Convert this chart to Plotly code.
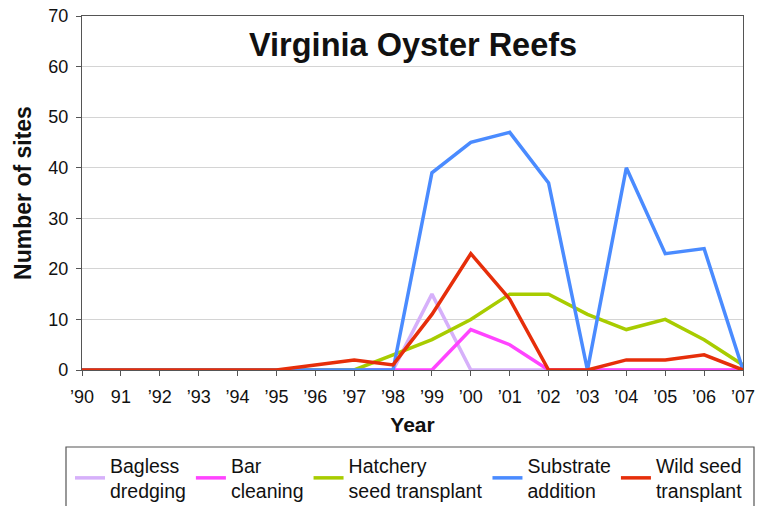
import plotly.graph_objects as go

years = ["’90", "91", "’92", "’93", "’94", "’95", "’96", "’97", "’98",
         "’99", "’00", "’01", "’02", "’03", "’04", "’05", "’06", "’07"]

bagless_dredging = [0, 0, 0, 0, 0, 0, 0, 0, 0, 15, 0, 0, 0, 0, 0, 0, 0, 0]
bar_cleaning = [0, 0, 0, 0, 0, 0, 0, 0, 0, 0, 8, 5, 0, 0, 0, 0, 0, 0]
hatchery_seed = [0, 0, 0, 0, 0, 0, 0, 0, 3, 6, 10, 15, 15, 11, 8, 10, 6, 1]
substrate_addition = [0, 0, 0, 0, 0, 0, 0, 0, 0, 39, 45, 47, 37, 0, 40, 23, 24, 0]
wild_seed = [0, 0, 0, 0, 0, 0, 1, 2, 1, 11, 23, 14, 0, 0, 2, 2, 3, 0]

series_names = ["Bagless<br>dredging", "Bar<br>cleaning", "Hatchery<br>seed transplant",
                "Substrate<br>addition", "Wild seed<br>transplant"]
series_values = [bagless_dredging, bar_cleaning, hatchery_seed, substrate_addition, wild_seed]
series_colors = ["#D6B0FA", "#FF44FF", "#A8CC00", "#4A8BFF", "#E62E0A"]

x_idx = list(range(len(years)))

fig = go.Figure()
for name, vals, col in zip(series_names, series_values, series_colors):
    fig.add_trace(go.Scatter(x=x_idx, y=vals, mode="lines", name=name,
                             line=dict(color=col, width=3.5)))

FONT = "Liberation Sans, Arial, Helvetica, sans-serif"

# the page's body margin is removed by the post script below
W, H = 762, 506
# plot area in page pixels: x 82..743, y 16..370
L, R, T, B = 82, 762 - 743, 16, 506 - 370
pw, ph = W - L - R, H - T - B

def px_x(x):  # page px -> paper
    return (x - L) / pw

def px_y(y):  # page px -> paper
    return (H - B - y) / ph

fig.update_layout(
    width=W, height=H,
    margin=dict(l=L, r=R, t=T, b=B, pad=0, autoexpand=False),
    paper_bgcolor="white", plot_bgcolor="white",
    font=dict(family=FONT, color="#111111"),
    showlegend=True,
    legend=dict(orientation="h", x=px_x(70), y=px_y(446), xanchor="left", yanchor="top",
                font=dict(size=19.5, family=FONT, color="#111111"),
                bgcolor="rgba(0,0,0,0)", borderwidth=0, traceorder="normal"),
    xaxis=dict(range=[0, len(years) - 1], tickmode="array", tickvals=x_idx, ticktext=years,
               automargin=False, ticklabeloverflow="allow",
               showgrid=False, zeroline=False, showline=True, mirror=True,
               linecolor="#555555", linewidth=1.2, ticks="outside", ticklen=5,
               tickcolor="#555555", ticklabelstandoff=5,
               tickfont=dict(size=18, family=FONT, color="#111111"),
               title=dict(text="<b>Year</b>", font=dict(size=21, family=FONT, color="#111111"),
                          standoff=11)),
    yaxis=dict(range=[0, 70], dtick=10, showgrid=True, gridcolor="#D4D4D4", gridwidth=1,
               automargin=False, ticklabeloverflow="allow",
               zeroline=False, showline=True, mirror=True, linecolor="#555555", linewidth=1.2,
               ticks="outside", ticklen=5, tickcolor="#555555", ticklabelstandoff=4,
               tickfont=dict(size=18, family=FONT, color="#111111"),
               title=dict(text="<b>Number of sites</b>",
                          font=dict(size=23, family=FONT, color="#111111"), standoff=10)),
    annotations=[dict(text="<b>Virginia Oyster Reefs</b>", xref="paper", yref="paper",
                      x=0.5, y=px_y(45), xanchor="center", yanchor="middle",
                      showarrow=False, font=dict(size=32.5, family=FONT, color="#111111"))],
    shapes=[dict(type="rect", xref="paper", yref="paper",
                 x0=px_x(66), x1=px_x(754), y0=px_y(447), y1=px_y(520),
                 line=dict(color="#555555", width=1.2), fillcolor="rgba(0,0,0,0)",
                 layer="above")],
)

fig.write_html("out.html",
               config={"displayModeBar": False},
               post_script="document.body.style.margin='0';"
                           "document.body.style.overflow='hidden';")
